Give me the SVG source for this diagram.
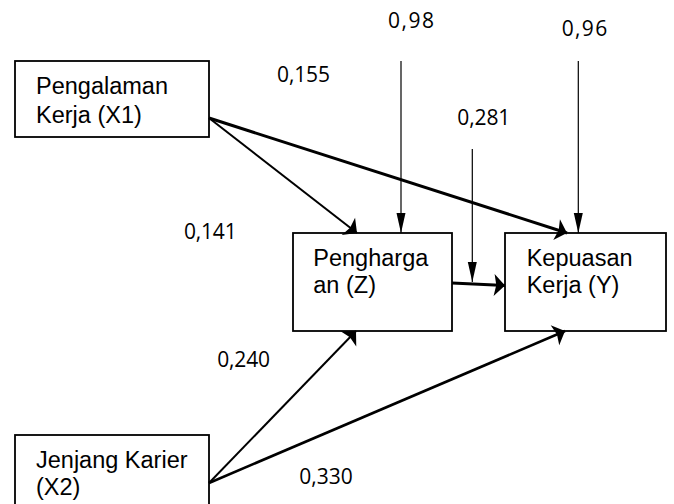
<svg xmlns="http://www.w3.org/2000/svg" width="674" height="504" viewBox="0 0 674 504">
  <style>
    .box { fill: #ffffff; stroke: #000000; stroke-width: 1.8; }
    .lbl { font-family: "Liberation Sans", Arial, sans-serif; font-size: 23.5px; fill: #000000; }
    .num { font-family: "Open Sans", "Noto Sans", sans-serif; font-size: 21px; fill: #000000; }
    .thick { fill: none; stroke: #000000; }
    .thin { fill: none; stroke: #000000; stroke-width: 1.2; }
  </style>
  <defs>
    <marker id="ah" markerUnits="userSpaceOnUse" markerWidth="14" markerHeight="24" viewBox="0 -11 12 22" refX="10" refY="0" orient="auto">
      <path d="M0,-10 L10,0 L0,10 L2,0 z" fill="#000000"/>
    </marker>
    <marker id="ahThin" markerUnits="userSpaceOnUse" markerWidth="22" markerHeight="12" viewBox="0 -6 22 12" refX="20" refY="0" orient="auto">
      <path d="M0,-4.5 L20,0 L0,4.5 z" fill="#000000"/>
    </marker>
  </defs>

  <g id="node-x1">
    <rect class="box" x="15" y="61" width="194" height="76"/>
    <text class="lbl" x="36" y="94.3">Pengalaman</text>
    <text class="lbl" x="36" y="122.7">Kerja (X1)</text>
  </g>

  <g id="node-z">
    <rect class="box" x="293" y="233" width="159" height="98"/>
    <text class="lbl" x="313.3" y="265.7">Pengharga</text>
    <text class="lbl" x="313.3" y="293.3">an (Z)</text>
  </g>

  <g id="node-y">
    <rect class="box" x="505" y="233" width="161" height="98"/>
    <text class="lbl" x="526.7" y="265.7">Kepuasan</text>
    <text class="lbl" x="526.7" y="293.3">Kerja (Y)</text>
  </g>

  <g id="node-x2">
    <rect class="box" x="15" y="435" width="194" height="80"/>
    <text class="lbl" x="36" y="467.5">Jenjang Karier</text>
    <text class="lbl" x="36" y="495">(X2)</text>
  </g>

  <g id="connectors">
    <path class="thick" stroke-width="2" d="M209,118 L357,233" marker-end="url(#ah)"/>
    <path class="thick" stroke-width="3" d="M209,118 L567,233" marker-end="url(#ah)"/>
    <path class="thick" stroke-width="2" d="M209,483 L356,331" marker-end="url(#ah)"/>
    <path class="thick" stroke-width="2.6" d="M209,483 L565,331" marker-end="url(#ah)"/>
    <path class="thick" stroke-width="3" d="M452,283 L505,285.5" marker-end="url(#ah)"/>
    <path class="thin" d="M401,61 L401,233" marker-end="url(#ahThin)"/>
    <path class="thin" d="M578.3,61 L578.3,233" marker-end="url(#ahThin)"/>
    <path class="thin" d="M472.3,149 L472.3,282" marker-end="url(#ahThin)"/>
  </g>

  <g id="labels">
    <text class="num" x="388" y="28.3" textLength="46">0,98</text>
    <text class="num" x="561.7" y="36" textLength="45.5">0,96</text>
    <text class="num" x="277" y="81.5" textLength="53">0,155</text>
    <text class="num" x="457.3" y="125" textLength="53">0,281</text>
    <text class="num" x="184" y="239.3" textLength="52.7">0,141</text>
    <text class="num" x="217.3" y="366.7" textLength="52.7">0,240</text>
    <text class="num" x="299.3" y="484.3" textLength="53.4">0,330</text>
  </g>
</svg>
